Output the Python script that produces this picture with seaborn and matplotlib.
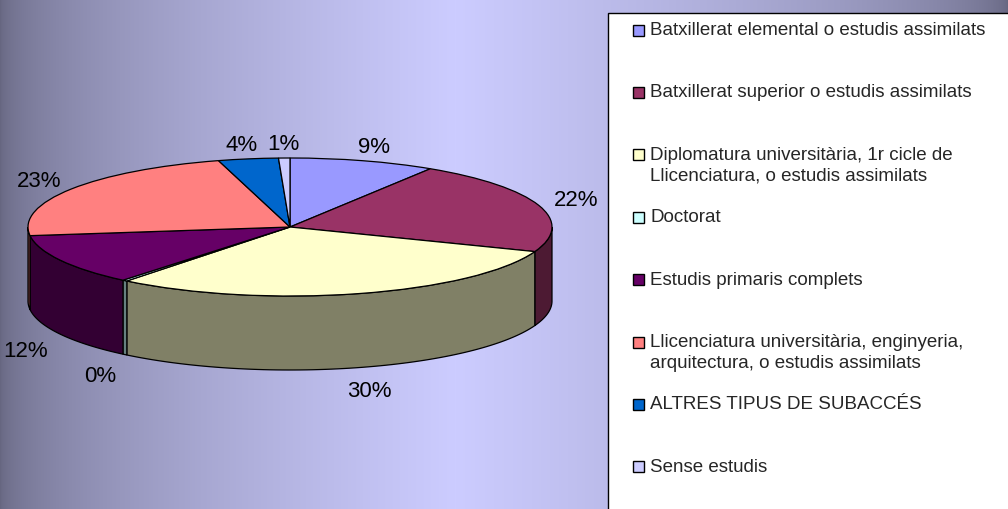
# Gràfic de pastís 3D: nivell d'estudis
import numpy as np
import matplotlib
matplotlib.use("Agg")
import matplotlib.pyplot as plt
import matplotlib.transforms as mtransforms
from matplotlib.patches import Rectangle
import seaborn as sns

# Dades
categories = [
    "Batxillerat elemental o estudis assimilats",
    "Batxillerat superior o estudis assimilats",
    "Diplomatura universitària, 1r cicle de\nLlicenciatura, o estudis assimilats",
    "Doctorat",
    "Estudis primaris complets",
    "Llicenciatura universitària, enginyeria,\narquitectura, o estudis assimilats",
    "ALTRES TIPUS DE SUBACCÉS",
    "Sense estudis",
]
percentatges = [9.0, 21.8, 29.9, 0.3, 12.0, 22.6, 3.7, 0.7]
colors = ["#9999FF", "#993366", "#FFFFCC", "#CCFFFF",
          "#660066", "#FF8080", "#0066CC", "#CCCCFF"]

sns.set_theme(style="white")
plt.rcParams['font.family'] = ['Liberation Sans', 'DejaVu Sans']

W, H = 1008, 509
fig = plt.figure(figsize=(W / 100, H / 100), dpi=100)

# Fons amb degradat horitzontal
bg = fig.add_axes([0, 0, 1, 1])
xs = np.arange(W)
pic = 455
t = np.where(xs < pic, xs / pic, (W - 1 - xs) / (W - 1 - pic)) ** 0.55
fosc = np.array([102, 102, 128]) / 255
clar = np.array([204, 204, 255]) / 255
fila = fosc + t[:, None] * (clar - fosc)
bg.imshow(np.repeat(fila[None, :, :], 2, axis=0), aspect='auto', extent=[0, W, 0, H])
bg.axis('off')

ax = fig.add_axes([0, 0, 1, 1])
ax.patch.set_alpha(0)

# Geometria del pastís (píxels)
cx, cy = 290, H - 227
a, b, gruix = 262, 69, 74

fracs = np.array(percentatges) / sum(percentatges)
cum = np.concatenate([[0], np.cumsum(fracs)])
inici = np.deg2rad(90 - 360 * cum[:-1])
final = np.deg2rad(90 - 360 * cum[1:])

# Parets laterals (només la part frontal)
for s, e, c in zip(inici, final, colors):
    hi = min(s, 0)
    lo = max(e, -np.pi)
    if lo >= hi:
        continue
    th = np.linspace(hi, lo, 80)
    xt = cx + a * np.cos(th)
    yt = cy + b * np.sin(th)
    xp = np.concatenate([xt, xt[::-1]])
    yp = np.concatenate([yt, yt[::-1] - gruix])
    fosca = tuple(0.5 * np.array(matplotlib.colors.to_rgb(c)))
    ax.fill(xp, yp, facecolor=fosca, edgecolor='black', linewidth=0.9, zorder=2)

# Cara superior
wedges, _ = ax.pie(percentatges, colors=colors, startangle=90, counterclock=False,
                   center=(cx, cy), radius=a,
                   wedgeprops=dict(edgecolor='black', linewidth=0.9, zorder=3))
aixafar = mtransforms.Affine2D().translate(-cx, -cy).scale(1, b / a).translate(cx, cy) + ax.transData
for w in wedges:
    w.set_transform(aixafar)

# Etiquetes de percentatge
for s, e, p in zip(inici, final, percentatges):
    m = (s + e) / 2
    x = cx + 1.15 * a * np.cos(m)
    y = cy + 1.2 * b * np.sin(m)
    if np.sin(m) < 0:
        y -= gruix + 11
    ax.text(x, y, f"{round(p)}%", fontsize=16, ha='center', va='center',
            color='black', zorder=5)

ax.set_aspect('auto')
ax.set_xlim(0, W)
ax.set_ylim(0, H)
ax.axis('off')

# Llegenda
ax.add_patch(Rectangle((608, -20), 500, H - 13 + 20, facecolor='white',
                       edgecolor='black', linewidth=1, zorder=6))
pas = 62.4
for i, (nom, c) in enumerate(zip(categories, colors)):
    y = H - 30 - i * pas
    ax.add_patch(Rectangle((633, y - 5.5), 11, 11, facecolor=c, edgecolor='black',
                           linewidth=1, zorder=7))
    ax.text(650, y + 8, nom, fontsize=13.5, ha='left', va='top',
            linespacing=1.3, zorder=7)

fig.savefig("out.png", dpi=100)
